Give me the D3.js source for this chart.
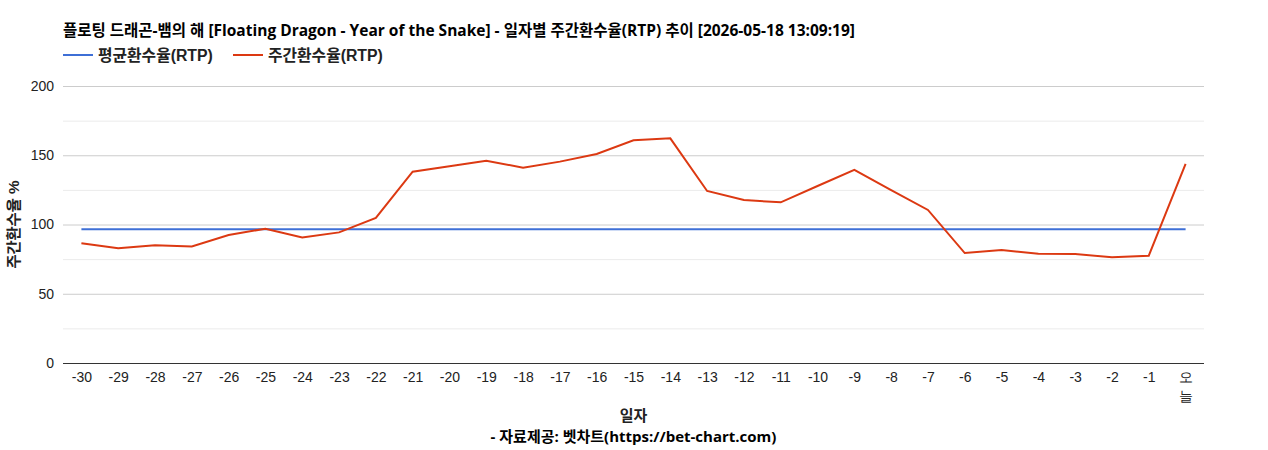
<!DOCTYPE html>
<html>
<head>
<meta charset="utf-8">
<script src="https://cdn.jsdelivr.net/npm/d3@7"></script>
<style>
  body { margin: 0; background: #fff; }
  svg { display: block; font-family: Arial, "Liberation Sans", "Noto Sans CJK KR", sans-serif; }
</style>
</head>
<body>
<div id="chart"></div>
<script>
// categories and values
const days = ['-30', '-29', '-28', '-27', '-26', '-25', '-24', '-23', '-22', '-21',
    '-20', '-19', '-18', '-17', '-16', '-15', '-14', '-13', '-12', '-11',
    '-10', '-9', '-8', '-7', '-6', '-5', '-4', '-3', '-2', '-1', '오늘'];
const weeklyRtp = [86.4, 82.8, 85.0, 84.2, 92.4, 97.0, 90.7, 94.3, 104.7, 138.1,
    142.0, 146.1, 141.0, 145.4, 150.9, 160.8, 162.2, 124.2, 117.7, 116.0,
    127.8, 139.4, 124.9, 110.5, 79.4, 81.6, 78.9, 78.7, 76.3, 77.5, 143.7];
const averageRtp = days.map(() => 96.5);
const yTicks = [0, 50, 100, 150, 200];
const yMinorTicks = [25, 75, 125, 175];

const title = '플로팅 드래곤-뱀의 해 [Floating Dragon - Year of the Snake] - 일자별 주간환수율(RTP) 추이 [2026-05-18 13:09:19]';
const seriesNames = ['평균환수율(RTP)', '주간환수율(RTP)'];
const colors = ['#3e6fd6', '#dc3912'];

const width = 1268;
const height = 450;
const margin = { top: 86, right: 64, bottom: 87, left: 63 };
const openSans = '"Open Sans", "Noto Sans CJK KR", sans-serif';

const svg = d3.select('#chart').append('svg')
    .attr('width', width)
    .attr('height', height);

const x = d3.scalePoint()
    .domain(days)
    .range([margin.left, width - margin.right])
    .padding(0.5);

const y = d3.scaleLinear()
    .domain([0, 200])
    .range([height - margin.bottom, margin.top]);

// gridlines
svg.append('g')
    .selectAll('line')
    .data(yMinorTicks)
    .join('line')
    .attr('x1', margin.left)
    .attr('x2', width - margin.right)
    .attr('y1', d => y(d) + 0.5)
    .attr('y2', d => y(d) + 0.5)
    .attr('stroke', '#ebebeb');

svg.append('g')
    .selectAll('line')
    .data(yTicks.filter(d => d !== 0))
    .join('line')
    .attr('x1', margin.left)
    .attr('x2', width - margin.right)
    .attr('y1', d => y(d) + 0.5)
    .attr('y2', d => y(d) + 0.5)
    .attr('stroke', '#cccccc');

// y axis labels
const yAxis = svg.append('g')
    .attr('transform', `translate(${margin.left},0)`)
    .call(d3.axisLeft(y).tickValues(yTicks).tickSize(0).tickPadding(9));
yAxis.select('.domain').remove();
yAxis.selectAll('text')
    .attr('font-size', 14)
    .attr('fill', '#222');

// x axis
const xAxis = svg.append('g')
    .attr('transform', `translate(0,${y(0)})`)
    .call(d3.axisBottom(x).tickSize(0).tickPadding(9));
xAxis.select('.domain')
    .attr('stroke', '#333')
    .attr('d', `M${margin.left},0.5H${width - margin.right}`);
xAxis.selectAll('text')
    .attr('font-size', 14)
    .attr('fill', '#222')
    .each(function (d) {
        // the label for today wraps one character per line
        if (d === '오늘') {
            const t = d3.select(this).text('');
            [...d].forEach((ch, i) => {
                t.append('tspan').attr('x', 0).attr('dy', i === 0 ? '0.71em' : '1.35em').text(ch);
            });
        }
    });

// lines
const line = d3.line()
    .x((d, i) => x(days[i]))
    .y(d => y(d));

[averageRtp, weeklyRtp].forEach((values, i) => {
    svg.append('path')
        .datum(values)
        .attr('fill', 'none')
        .attr('stroke', colors[i])
        .attr('stroke-width', 2)
        .attr('d', line);
});

// title
svg.append('text')
    .attr('x', 63)
    .attr('y', 36)
    .attr('font-family', openSans)
    .attr('font-size', 15.5)
    .attr('font-weight', 'bold')
    .attr('fill', '#000')
    .text(title);

// legend
const legendX = [63, 233];
seriesNames.forEach((name, i) => {
    const g = svg.append('g').attr('transform', `translate(${legendX[i]},55)`);
    g.append('line')
        .attr('x1', 0).attr('x2', 30)
        .attr('y1', 0).attr('y2', 0)
        .attr('stroke', colors[i])
        .attr('stroke-width', 2);
    g.append('text')
        .attr('x', 35)
        .attr('y', 5.5)
        .attr('font-size', 15.8)
        .attr('font-weight', 'bold')
        .attr('fill', '#222')
        .text(name);
});

// axis titles
svg.append('text')
    .attr('transform', `translate(19,${y(100)}) rotate(-90)`)
    .attr('text-anchor', 'middle')
    .attr('font-size', 15.3)
    .attr('font-weight', 'bold')
    .attr('fill', '#222')
    .text('주간환수율 %');

svg.append('text')
    .attr('x', (margin.left + width - margin.right) / 2)
    .attr('y', 421)
    .attr('text-anchor', 'middle')
    .attr('font-family', openSans)
    .attr('font-size', 15)
    .attr('font-weight', 'bold')
    .attr('fill', '#222')
    .text('일자');

svg.append('text')
    .attr('x', (margin.left + width - margin.right) / 2)
    .attr('y', 442)
    .attr('text-anchor', 'middle')
    .attr('font-family', openSans)
    .attr('font-size', 15)
    .attr('font-weight', 'bold')
    .attr('fill', '#000')
    .text('- 자료제공: 벳차트(https://bet-chart.com)');
</script>
</body>
</html>
